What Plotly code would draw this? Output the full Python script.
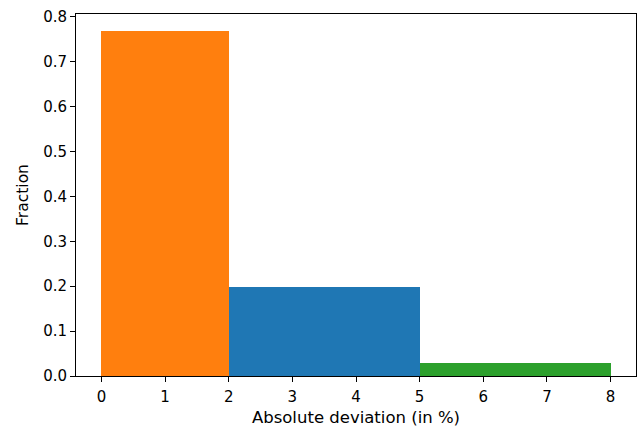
import plotly.graph_objects as go

bin_left = [0, 2, 5]
bin_right = [2, 5, 8]
fractions = [0.768, 0.199, 0.030]
colors = ["#ff7f0e", "#1f77b4", "#2ca02c"]
x_ticks = [0, 1, 2, 3, 4, 5, 6, 7, 8]
y_ticks = [0.0, 0.1, 0.2, 0.3, 0.4, 0.5, 0.6, 0.7, 0.8]

fig = go.Figure()
for l, r, f, c in zip(bin_left, bin_right, fractions, colors):
    fig.add_trace(go.Bar(x=[(l + r) / 2], y=[f], width=[r - l],
                         marker=dict(color=c, line=dict(width=0)),
                         showlegend=False))

tick_font = dict(family="DejaVu Sans", size=15, color="black")
axis_common = dict(showline=True, linecolor="black", linewidth=1, mirror=True,
                   ticks="outside", ticklen=5, tickcolor="black", showgrid=False,
                   zeroline=False, tickfont=tick_font)
fig.update_layout(
    width=638, height=427,
    margin=dict(l=76, r=2, t=14, b=51),
    plot_bgcolor="white", paper_bgcolor="white",
    bargap=0, font=tick_font,
    xaxis=dict(range=[-0.4, 8.4], tickvals=x_ticks, ticklabelstandoff=2,
               title=dict(text="Absolute deviation (in %)",
                          font=dict(family="DejaVu Sans", size=16.5, color="black"),
                          standoff=8),
               **axis_common),
    yaxis=dict(range=[0, 0.8064], tickvals=y_ticks, tickformat=".1f",
               title=dict(text="Fraction",
                          font=dict(family="DejaVu Sans", size=15.5, color="black"),
                          standoff=10),
               **axis_common),
)
fig.write_html("out.html", config={"displayModeBar": False},
               post_script="document.body.style.margin='0';")
